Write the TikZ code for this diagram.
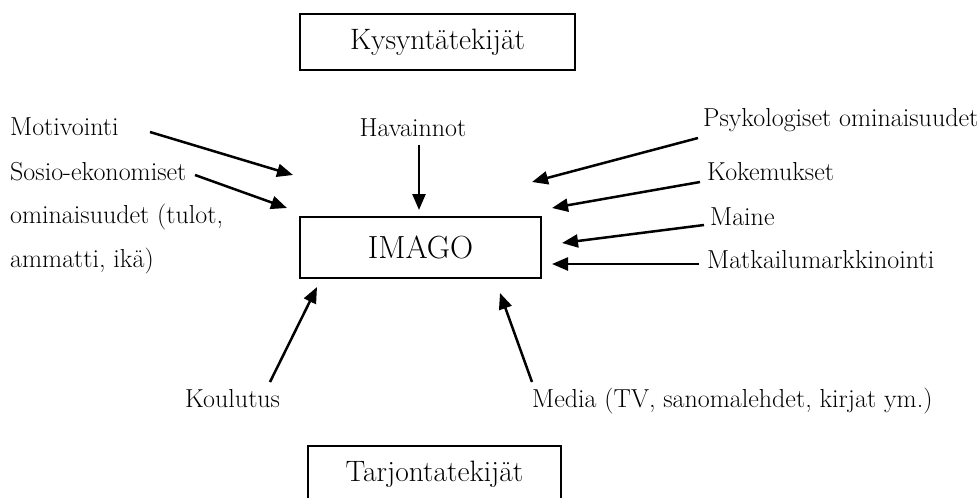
\documentclass[tikz,border=0pt]{standalone}
\usetikzlibrary{arrows.meta}
\begin{document}
\begin{tikzpicture}[x=1pt,y=-1pt,
  lbl/.style={anchor=base west,inner sep=0pt,font=\fontsize{26}{31}\selectfont},
  bigbox/.style={draw,line width=1.6pt,inner sep=0pt,font=\fontsize{29.5}{34}\selectfont},
  arr/.style={line width=2.5pt,-{Triangle[length=16pt,width=13pt]}}]
\useasboundingbox (0,0) rectangle (980,498);
% boxes
\node[bigbox,minimum width=275pt,minimum height=56pt] (kys) at (437.5,42) {Kysyntätekijät};
\node[bigbox,minimum width=241pt,minimum height=61pt,font=\fontsize{32}{37}\selectfont] (imago) at (420.5,247.5) {IMAGO};
\node[bigbox,minimum width=253pt,minimum height=56pt] (tar) at (434.5,474) {Tarjontatekijät};
% labels
\node[lbl] (mot) at (10,135) {Motivointi};
\node[lbl] (sos) at (10,180) {Sosio-ekonomiset};
\node[lbl] (omi) at (10,223) {ominaisuudet (tulot,};
\node[lbl] (amm) at (10,267) {ammatti, ikä)};
\node[lbl,anchor=base] (hav) at (413,136) {Havainnot};
\node[lbl] (psy) at (703,126) {Psykologiset ominaisuudet};
\node[lbl] (kok) at (707,180) {Kokemukset};
\node[lbl] (mai) at (710,225) {Maine};
\node[lbl] (mat) at (707,268) {Matkailumarkkinointi};
\node[lbl] (kou) at (185,407) {Koulutus};
\node[lbl] (med) at (532,407) {Media (TV, sanomalehdet, kirjat ym.)};
% arrow end points
\coordinate (mot1) at (150,132); \coordinate (mot2) at (293,175);
\coordinate (sos1) at (195,175); \coordinate (sos2) at (287,208);
\coordinate (hav1) at (419,145); \coordinate (hav2) at (419,210);
\coordinate (psy1) at (698,138); \coordinate (psy2) at (532,182);
\coordinate (kok1) at (700,182); \coordinate (kok2) at (552,208);
\coordinate (mai1) at (704,225); \coordinate (mai2) at (562,243);
\coordinate (mat1) at (699,264); \coordinate (mat2) at (552,264);
\coordinate (kou1) at (270,382); \coordinate (kou2) at (317,287);
\coordinate (med1) at (532,382); \coordinate (med2) at (500,293);
\foreach \a in {mot,sos,hav,psy,kok,mai,mat,kou,med}
  \draw[arr] (\a1) -- (\a2);
\end{tikzpicture}
\end{document}
